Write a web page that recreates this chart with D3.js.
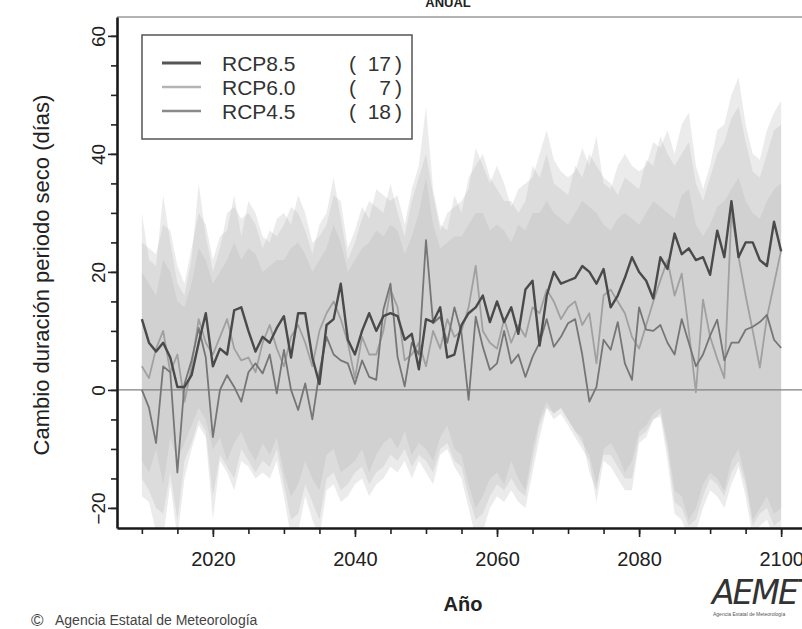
<!DOCTYPE html>
<html>
<head>
<meta charset="utf-8">
<script src="https://cdn.jsdelivr.net/npm/d3@7"></script>
<style>
body { margin: 0; background: #fff; }
svg { display: block; font-family: "Liberation Sans", Arial, sans-serif; }
</style>
</head>
<body>
<div id="chart"></div>
<script>
// categories
var years = d3.range(2010, 2101);
var xMajorTicks = [2020, 2040, 2060, 2080, 2100];
var yMajorTicks = [-20, 0, 20, 40, 60];

// series
var rcp85 = [
    12, 8, 6.5, 8, 5.5, 0.5, 0.5, 2.5, 8, 13,
    4, 7, 6, 13.5, 14, 10, 6.5, 9, 8, 10.5,
    12.5, 5.5, 13, 13, 5.5, 1, 11, 12, 18, 8.5,
    6, 10, 13, 10, 12.5, 13, 12.5, 8.5, 9.5, 3.5,
    12, 11.5, 14, 5.5, 6, 11, 13, 14, 16, 11.5,
    15, 11.5, 14, 9.5, 17, 18.5, 7.5, 16, 20, 18,
    18.5, 19, 21, 20, 18, 20.5, 14, 16, 19, 22.5,
    20, 18.5, 15.5, 22.5, 20.5, 26.5, 23, 24, 22, 22.5,
    19.5, 27, 22.5, 32, 22.5, 25, 25, 22, 21, 28.5,
    23.5
];
var rcp60 = [
    4, 2, 7, 10, 3, 6, -2, 4, 12, 8,
    6, 9, 12, 7, 5, 5.5, 3, 8, 11, 7,
    4, 9, 11, 8, 4, 10, 13, 15, 12, 8,
    2, 9, 6, 6, 10, 17, 14, 5, 6, 8,
    4, 10, 7, 12, 9, 10, 14, 21, 10, 8,
    7, 12, 8, 11, 9, 14, 13, 17, 15, 12,
    14, 15, 11, 13, 4.5, 16, 17, 15, 13, 9,
    7, 11, 15, 18.6, 22, 16, 19.7, 10, -0.4, 15.3,
    9, 5.3, 2, 30, 22.6, 16, 10, 3.8, 12.3, 18,
    23.7
];
var rcp45 = [
    0, -3, -9, 4, 3, -14, 1, 5, 10.5, 5.5,
    -8, 0, 2.5, 0.5, -2, 3, 4.5, 2.8, 6, -0.6,
    6.8, 0, -3.4, 1.1, -5, 3, 9, 6, 5, 4.5,
    1, 5, 2.2, 1.7, 13.6, 18, 5.6, 0.6, 8, 6,
    25.4, 11.3, 12.4, 8, 14, 9.6, -1.7, 12.4, 7.3, 3.4,
    4.5, 10, 4.5, 6, 2.2, 5.6, 8, 12, 7.3, 9,
    11.3, 12, 6, -2, 0.5, 8.5, 6.8, 11.5, 4.5, 1.7,
    14, 10.2, 10, 11, 8, 6, 12, 8, 4, 6,
    9.2, 11.9, 5, 8, 8, 10.2, 10.7, 11.5, 12.7, 8.5,
    7.1
];

// model spread bands
var rcp85Upper = [
    30, 22, 21, 33, 25, 18, 16, 22, 35, 26,
    20, 24, 30, 31, 29, 30, 28, 24, 27, 26,
    28, 31, 30, 27, 23, 28, 30, 36, 29, 22,
    25, 29, 32, 31, 30, 35, 30, 26, 32, 36,
    40, 33, 27, 30, 31, 32, 34, 41, 38, 35,
    38, 35, 31, 34, 35, 36, 40, 44, 39, 37,
    36, 37, 41, 38, 43, 35, 34, 38, 40, 38,
    37, 38, 42, 41, 44, 40, 45, 47, 38, 34,
    38, 44, 45, 50, 53, 45, 40, 39, 44, 47,
    49
];
var rcp85Lower = [
    -12, -14, -10, -16, -8, -12, -9, -6, -3, -5,
    -10, -8, -12, -9, -7, -10, -12, -9, -11, -8,
    -14, -18, -16, -12, -15, -17, -11, -10, -14, -13,
    -12, -10, -14, -11, -9, -8, -10, -7, -11, -9,
    -10, -12, -8, -6, -10, -11, -16, -20, -18, -15,
    -14, -16, -12, -15, -17, -10, -5, -2, -4, -3,
    -5, -7, -8, -14, -17, -10, -9, -11, -14, -12,
    -7, -6, -4, -3, -9, -17, -18, -22, -20, -16,
    -14, -15, -17, -12, -10, -15, -22, -20, -18, -21,
    -20
];
var rcp60Upper = [
    25, 24, 23, 28, 27, 21, 18, 24, 30, 28,
    22, 26, 27, 33, 26, 32, 30, 26, 25, 29,
    30, 28, 33, 30, 25, 26, 28, 33, 32, 24,
    27, 31, 29, 34, 33, 32, 33, 28, 34, 38,
    48, 34, 28, 27, 33, 30, 36, 38, 40, 36,
    34, 32, 32, 30, 32, 38, 36, 40, 35, 34,
    33, 38, 36, 40, 38, 36, 35, 33, 36, 35,
    34, 39, 38, 43, 40, 38, 40, 42, 35, 32,
    36, 40, 42, 46, 48, 42, 37, 36, 40, 44,
    45
];
var rcp60Lower = [
    -18, -19, -24, -25, -16, -25, -15, -10, -6, -8,
    -22, -12, -14, -17, -12, -13, -15, -14, -15, -12,
    -18, -25, -24, -18, -22, -25, -17, -16, -19, -18,
    -16, -15, -18, -16, -15, -13, -14, -12, -15, -12,
    -14, -16, -11, -10, -13, -15, -20, -25, -24, -20,
    -18, -19, -17, -19, -20, -14, -8, -3, -5, -4,
    -6, -8, -10, -12, -19, -12, -13, -15, -17, -17,
    -9, -8, -5, -4.5, -12, -21, -22, -25, -24, -20,
    -17, -18, -20, -16, -13, -18, -25, -23, -22, -25,
    -24
];
var rcp45Upper = [
    20, 18, 16, 22, 20, 15, 14, 18, 24, 22,
    18, 20, 22, 25, 22, 24, 23, 20, 21, 22,
    22, 24, 25, 23, 20, 22, 24, 28, 25, 20,
    22, 24, 25, 27, 26, 28, 27, 23, 26, 30,
    36, 28, 24, 25, 26, 26, 28, 30, 30, 27,
    28, 27, 25, 28, 27, 30, 30, 32, 30, 29,
    28, 30, 32, 31, 30, 28, 27, 29, 30, 29,
    28, 30, 32, 31, 30, 29, 33, 34, 28, 26,
    28, 31, 32, 34, 36, 32, 30, 29, 32, 34,
    35
];
var rcp45Lower = [
    -15, -17, -20, -21, -14, -22, -12, -9, -5, -7,
    -18, -11, -13, -15, -10, -12, -14, -12, -13, -10,
    -16, -22, -21, -16, -19, -22, -15, -14, -17, -16,
    -14, -13, -16, -14, -13, -11, -12, -10, -13, -11,
    -12, -14, -10, -9, -12, -13, -18, -22, -21, -18,
    -16, -17, -15, -17, -18, -12, -6, -3, -4, -3,
    -5, -7, -9, -11, -16, -11, -11, -13, -15, -15,
    -8, -7, -5, -4, -10, -19, -20, -23, -22, -18,
    -15, -16, -18, -14, -12, -16, -23, -21, -20, -23,
    -22
];

// legend entries
var legendNames = ["RCP8.5", "RCP6.0", "RCP4.5"];
var legendCounts = [17, 7, 18];
var legendColors = ["#555555", "#b4b4b4", "#8a8a8a"];

// chart properties
var margin = {top: 17, right: -4, bottom: 101, left: 117},
    width = 802 - margin.left - margin.right,
    height = 629 - margin.top - margin.bottom;

var svg = d3.select("#chart").append("svg")
            .attr("width", 802)
            .attr("height", 629);

var chart = svg.append("g")
               .attr("transform", "translate(" + margin.left + "," + margin.top + ")");

var xScale = d3.scaleLinear()
               .domain([2006.5, 2103.5])
               .range([0, width]);

var yScale = d3.scaleLinear()
               .domain([-23.4, 63.2])
               .range([height, 0]);

chart.append("clipPath")
     .attr("id", "plotClip")
     .append("rect")
     .attr("width", width)
     .attr("height", height);

var plot = chart.append("g").attr("clip-path", "url(#plotClip)");

// bands
var bands = [
    [rcp45Lower, rcp45Upper],
    [rcp60Lower, rcp60Upper],
    [rcp85Lower, rcp85Upper]
];

bands.forEach(function(b) {
    var area = d3.area()
                 .x(function(d, i) { return xScale(years[i]); })
                 .y0(function(d, i) { return yScale(b[0][i]); })
                 .y1(function(d, i) { return yScale(b[1][i]); });
    plot.append("path")
        .attr("d", area(years))
        .attr("fill", "#b0b0b0")
        .attr("fill-opacity", 0.25);
});

// zero line
plot.append("line")
    .attr("x1", 0)
    .attr("x2", width)
    .attr("y1", yScale(0))
    .attr("y2", yScale(0))
    .attr("stroke", "#808080")
    .attr("stroke-width", 1.2);

// series lines
var series = [
    {values: rcp60, color: "#a0a0a0", w: 1.8},
    {values: rcp45, color: "#767676", w: 1.8},
    {values: rcp85, color: "#4a4a4a", w: 2.4}
];

series.forEach(function(s) {
    var lineGen = d3.line()
                    .x(function(d, i) { return xScale(years[i]); })
                    .y(function(d) { return yScale(d); });
    plot.append("path")
        .attr("d", lineGen(s.values))
        .attr("stroke", s.color)
        .attr("stroke-width", s.w)
        .attr("stroke-linejoin", "round")
        .attr("fill", "none");
});

// frame
chart.append("line")
     .attr("x1", 0).attr("x2", width)
     .attr("y1", 0).attr("y2", 0)
     .attr("stroke", "#9a9a9a")
     .attr("stroke-width", 1.5);

// x axis
var xMinor = chart.append("g")
                  .attr("transform", "translate(0," + height + ")")
                  .call(d3.axisBottom(xScale)
                          .tickValues(d3.range(2010, 2101, 5))
                          .tickSize(6)
                          .tickSizeOuter(0)
                          .tickFormat(""));
xMinor.select(".domain").remove();

var xAxis = chart.append("g")
                 .attr("transform", "translate(0," + height + ")")
                 .call(d3.axisBottom(xScale)
                         .tickValues(xMajorTicks)
                         .tickSize(9)
                         .tickSizeOuter(0)
                         .tickFormat(d3.format("d")));

// y axis
var yMinor = chart.append("g")
                  .call(d3.axisLeft(yScale)
                          .tickValues(d3.range(-20, 61, 5))
                          .tickSize(6)
                          .tickSizeOuter(0)
                          .tickFormat(""));
yMinor.select(".domain").remove();

var yAxis = chart.append("g")
                 .call(d3.axisLeft(yScale)
                         .tickValues(yMajorTicks)
                         .tickSize(9)
                         .tickSizeOuter(0));

chart.selectAll(".tick line").attr("stroke", "#222").attr("stroke-width", 1.6);
chart.selectAll(".domain").attr("stroke", "#1a1a1a").attr("stroke-width", 2.6);

xAxis.selectAll("text")
     .attr("y", 24)
     .attr("fill", "#222")
     .style("font-size", "20px");

yAxis.selectAll("text")
     .attr("transform", "rotate(-90)")
     .attr("x", 0)
     .attr("y", -12)
     .attr("dy", 0)
     .attr("text-anchor", "middle")
     .attr("fill", "#222")
     .style("font-size", "19px");

// legend
var legend = svg.append("g");

legend.append("rect")
      .attr("x", 142)
      .attr("y", 35)
      .attr("width", 270)
      .attr("height", 104)
      .attr("fill", "#fff")
      .attr("stroke", "#555")
      .attr("stroke-width", 1.5);

legendNames.forEach(function(name, i) {
    var ly = 63 + i * 24;
    legend.append("line")
          .attr("x1", 162).attr("x2", 201)
          .attr("y1", ly).attr("y2", ly)
          .attr("stroke", legendColors[i])
          .attr("stroke-width", i == 0 ? 3 : 2.5);
    legend.append("text")
          .attr("x", 222)
          .attr("y", ly + 8)
          .style("font-size", "21px")
          .attr("fill", "#333")
          .text(name);
    legend.append("text")
          .attr("x", 349)
          .attr("y", ly + 8)
          .style("font-size", "21px")
          .attr("fill", "#333")
          .text("(");
    legend.append("text")
          .attr("x", 391)
          .attr("y", ly + 8)
          .attr("text-anchor", "end")
          .style("font-size", "21px")
          .attr("fill", "#333")
          .text(legendCounts[i]);
    legend.append("text")
          .attr("x", 395)
          .attr("y", ly + 8)
          .style("font-size", "21px")
          .attr("fill", "#333")
          .text(")");
});

// chart title
svg.append("text")
   .attr("x", 448)
   .attr("y", 7)
   .attr("text-anchor", "middle")
   .style("font-size", "13px")
   .style("font-weight", "bold")
   .attr("fill", "#222")
   .text("ANUAL");

// y axis label
svg.append("text")
   .attr("transform", "translate(49," + 275 + ") rotate(-90)")
   .attr("text-anchor", "middle")
   .style("font-size", "22px")
   .attr("fill", "#222")
   .text("Cambio duración periodo seco (días)");

// x axis label
svg.append("text")
   .attr("x", 463)
   .attr("y", 611)
   .attr("text-anchor", "middle")
   .style("font-size", "20px")
   .style("font-weight", "bold")
   .attr("fill", "#222")
   .text("Año");

// credits
svg.append("text")
   .attr("x", 31)
   .attr("y", 626)
   .style("font-size", "17px")
   .attr("fill", "#444")
   .text("\u00A9");

svg.append("text")
   .attr("x", 55)
   .attr("y", 625)
   .style("font-size", "14px")
   .attr("fill", "#444")
   .text("Agencia Estatal de Meteorología");

svg.append("text")
   .attr("x", 712)
   .attr("y", 604)
   .style("font-family", "'DejaVu Sans', sans-serif")
   .style("font-style", "italic")
   .style("font-weight", "200")
   .style("font-size", "33px")
   .style("letter-spacing", "-2px")
   .attr("fill", "#333")
   .text("AEMET");

svg.append("text")
   .attr("x", 713)
   .attr("y", 616)
   .style("font-size", "5px")
   .attr("fill", "#555")
   .text("Agencia Estatal de Meteorología");
</script>
</body>
</html>
